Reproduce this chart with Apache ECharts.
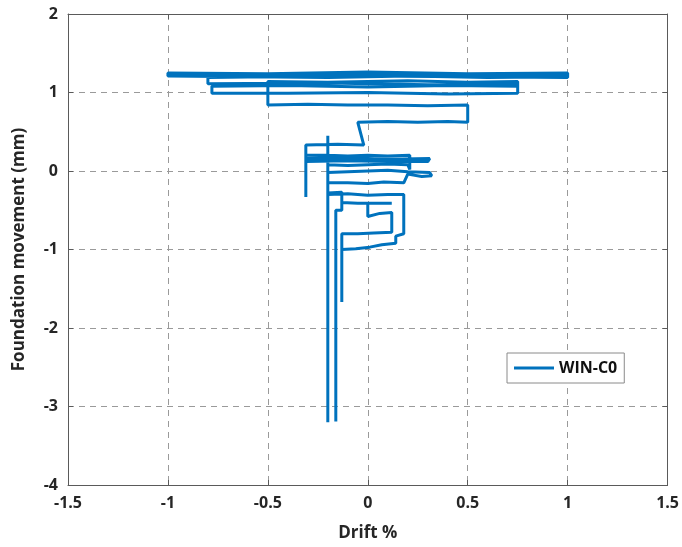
<!DOCTYPE html>
<html>
<head>
<meta charset="utf-8">
<script src="https://cdn.jsdelivr.net/npm/echarts@6/dist/echarts.min.js"></script>
<style>
  html, body { margin: 0; padding: 0; background: #fff; }
  #chart { width: 682px; height: 547px; }
</style>
</head>
<body>
<div id="chart"></div>
<script>
  // drift % (x) and foundation movement in mm (y) in order
  var drift = [
    -0.2, -0.1, 0, 0.1, 0.2, 0.31, 0.32, 0.27, 0.2, 0.18, 0.08, 0, -0.1, -0.2,
    -0.2, -0.1, 0, 0.1, 0.18, 0.18, 0.18, 0.14, 0.14, 0.07, 0.01, -0.06, -0.13, -0.13, -0.13,
    -0.05, 0.03, 0.12, 0.12, 0.06, 0, 0, 0.12, 0.12, 0.05, -0.05, -0.13,
    -0.13, -0.16, -0.16, -0.16, -0.13, -0.13,
    -0.2, -0.2, -0.2, -0.2, -0.1, 0, 0.1, 0.2, 0.21, 0.21, 0.1, 0, -0.1, -0.2, -0.31,
    -0.31, -0.1, 0.1, 0.31, 0.3, 0.1, -0.1, -0.31, -0.31, -0.31, -0.15, -0.02,
    -0.05, 0.1, 0.25, 0.4, 0.5, 0.5, 0.3, 0.1, -0.1, -0.3, -0.5,
    -0.5, -0.2, 0.2, 0.5, 0.75, 0.75, 0.4, 0, -0.4, -0.78, -0.78,
    -0.4, 0, 0.4, 0.75, 0.75, 0.3, -0.2, -0.8, -0.8,
    -0.9, -1, -1, -0.6, -0.2, 0.2, 0.6, 1, 1, 0.6, 0.2, -0.2, -0.6, -1,
    -1, -0.5, 0, 0.5, 1, 1, 0.5, 0, -0.5, -0.8, -0.8, -0.3, 0.2, 0.7, 1
  ]
  var movement = [
    -0.02, -0.01, 0, 0.01, -0.01, -0.02, -0.06, -0.07, -0.04, -0.15, -0.14, -0.16, -0.15, -0.15,
    -0.3, -0.29, -0.31, -0.3, -0.3, -0.55, -0.8, -0.83, -0.92, -0.94, -0.97, -0.99, -1.0, -1.67, -0.8,
    -0.8, -0.79, -0.78, -0.53, -0.54, -0.58, -0.41, -0.41, -0.42, -0.41, -0.41, -0.4,
    -0.5, -0.5, -3.19, -0.5, -0.5, -0.27,
    -0.28, -3.2, 0.45, 0.08, 0.07, 0.08, 0.09, 0.08, 0.02, 0.2, 0.19, 0.2, 0.19, 0.2, 0.2,
    0.16, 0.17, 0.15, 0.16, 0.12, 0.12, 0.13, 0.12, -0.33, 0.33, 0.34, 0.33,
    0.62, 0.63, 0.62, 0.63, 0.62, 0.84, 0.83, 0.84, 0.84, 0.85, 0.84,
    1.14, 1.13, 1.15, 1.13, 1.14, 0.99, 0.98, 1.0, 0.99, 0.99, 1.08,
    1.09, 1.07, 1.09, 1.08, 1.11, 1.1, 1.12, 1.11, 1.22,
    1.23, 1.21, 1.24, 1.22, 1.25, 1.23, 1.22, 1.24, 1.2, 1.19, 1.21, 1.19, 1.2, 1.21,
    1.25, 1.24, 1.26, 1.24, 1.25, 1.19, 1.2, 1.21, 1.2, 1.19, 1.22, 1.23, 1.21, 1.22, 1.22
  ]
  var xTicks = [-1.5, 1.5, 0.5]
  var yTicks = [-4, 2, 1]

  var points = drift.map(function (d, i) { return [d, movement[i]] })

  var chart = echarts.init(document.getElementById('chart'))

  var labelStyle = {
    color: '#262626',
    fontFamily: 'Open Sans',
    fontWeight: 'bold',
    fontSize: 16
  }
  var nameStyle = {
    color: '#262626',
    fontFamily: 'Open Sans',
    fontWeight: 'bold',
    fontSize: 17
  }
  var lineStyle = { color: '#5a5a5a', width: 1 }
  var gridDash = { color: '#9a9a9a', type: [6, 5], width: 1 }

  chart.setOption({
    backgroundColor: '#fff',
    animation: false,
    grid: {
      left: 68,
      right: 14,
      top: 14,
      bottom: 61
    },
    legend: {
      left: 507,
      top: 353,
      data: ['WIN-C0'],
      icon: 'path://M0,0 L40,0 L40,3 L0,3 Z',
      itemWidth: 40,
      itemHeight: 3,
      padding: [7, 7, 7, 7],
      borderColor: '#8a8a8a',
      borderWidth: 1,
      backgroundColor: '#fff',
      textStyle: {
        color: '#111',
        fontFamily: 'Open Sans',
        fontWeight: 'bold',
        fontSize: 16
      }
    },
    xAxis: [{
      type: 'value',
      min: xTicks[0],
      max: xTicks[1],
      interval: xTicks[2],
      name: 'Drift %',
      nameLocation: 'middle',
      nameGap: 40,
      nameTextStyle: nameStyle,
      axisLine: { onZero: false, lineStyle: lineStyle },
      axisTick: { inside: true, length: 5, lineStyle: lineStyle },
      axisLabel: Object.assign({ margin: 10 }, labelStyle),
      splitLine: { lineStyle: gridDash }
    }, {
      type: 'value',
      position: 'top',
      min: xTicks[0],
      max: xTicks[1],
      interval: xTicks[2],
      axisLine: { onZero: false, lineStyle: lineStyle },
      axisTick: { inside: true, length: 5, lineStyle: lineStyle },
      axisLabel: { show: false },
      splitLine: { show: false }
    }],
    yAxis: [{
      type: 'value',
      min: yTicks[0],
      max: yTicks[1],
      interval: yTicks[2],
      name: 'Foundation movement (mm)',
      nameLocation: 'middle',
      nameGap: 40,
      nameTextStyle: nameStyle,
      axisLine: { onZero: false, lineStyle: lineStyle },
      axisTick: { inside: true, length: 5, lineStyle: lineStyle },
      axisLabel: Object.assign({ margin: 10 }, labelStyle),
      splitLine: { lineStyle: gridDash }
    }, {
      type: 'value',
      position: 'right',
      min: yTicks[0],
      max: yTicks[1],
      interval: yTicks[2],
      axisLine: { onZero: false, lineStyle: lineStyle },
      axisTick: { inside: true, length: 5, lineStyle: lineStyle },
      axisLabel: { show: false },
      splitLine: { show: false }
    }],
    series: [{
      name: 'WIN-C0',
      type: 'line',
      showSymbol: false,
      symbol: 'none',
      lineStyle: { color: '#0072BD', width: 3 },
      itemStyle: { color: '#0072BD' },
      data: points
    }]
  })
</script>
</body>
</html>
